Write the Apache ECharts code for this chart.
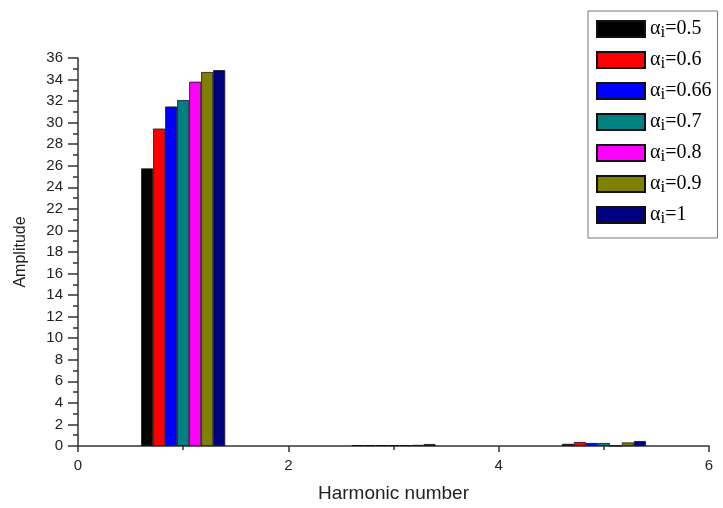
<!DOCTYPE html>
<html>
<head>
<meta charset="utf-8">
<script src="https://cdn.jsdelivr.net/npm/echarts@6/dist/echarts.min.js"></script>
<style>
  html, body { margin: 0; padding: 0; background: #fff; }
  #chart-container { width: 723px; height: 508px; }
</style>
</head>
<body>
<div id="chart-container"></div>
<script>
// harmonic numbers on the x axis
const harmonics = [1, 3, 5];
const alphas = ['0.5', '0.6', '0.66', '0.7', '0.8', '0.9', '1'];
const colors = ['#000000', '#ff0000', '#0000ff', '#008080', '#ff00ff', '#808000', '#000080'];

// amplitude per alpha, one value per harmonic
const amp05 = [25.75, 0.08, 0.2];
const amp06 = [29.45, 0.08, 0.37];
const amp066 = [31.5, 0.08, 0.28];
const amp07 = [32.1, 0.08, 0.28];
const amp08 = [33.8, 0.08, 0.03];
const amp09 = [34.7, 0.1, 0.33];
const amp1 = [34.87, 0.18, 0.46];
const amplitudes = [amp05, amp06, amp066, amp07, amp08, amp09, amp1];

const myChart = echarts.init(document.getElementById('chart-container'));

const series = alphas.map((a, i) => ({
	name: 'αi=' + a,
	type: 'bar',
	data: harmonics.map((h, k) => [h, amplitudes[i][k]]),
	barWidth: 12,
	barGap: '0%',
	itemStyle: {
		color: colors[i],
		borderColor: '#111',
		borderWidth: 0.8
	}
}));

const axisColor = '#333';

const option = {
	animation: false,
	grid: { left: 78, right: 14, top: 58, bottom: 59 },
	legend: {
		orient: 'vertical',
		left: 588,
		top: 11,
		padding: [6, 6, 11, 8],
		icon: 'rect',
		itemWidth: 48,
		itemHeight: 16,
		itemGap: 7,
		borderColor: '#777',
		borderWidth: 1,
		formatter: (name) => '{a|α}{s|i}{a|=' + name.split('=')[1] + '}',
		textStyle: {
			rich: {
				a: { fontFamily: 'Liberation Serif', fontSize: 20, color: '#000', lineHeight: 20 },
				s: { fontFamily: 'Liberation Serif', fontSize: 17, color: '#000', lineHeight: 10, padding: [7, 0, 0, 0] }
			}
		}
	},
	xAxis: {
		type: 'value',
		min: 0,
		max: 6,
		interval: 2,
		name: 'Harmonic number',
		nameLocation: 'middle',
		nameGap: 38,
		nameTextStyle: { fontFamily: 'Liberation Sans', fontSize: 19, color: '#222' },
		axisLine: { show: true, lineStyle: { color: axisColor, width: 1.5 } },
		axisTick: { show: true, length: 6, lineStyle: { color: axisColor, width: 1.5 } },
		minorTick: { show: true, splitNumber: 2, length: 4, lineStyle: { color: axisColor, width: 1.5 } },
		axisLabel: { fontFamily: 'Liberation Sans', fontSize: 15, color: '#222', margin: 12 },
		splitLine: { show: false }
	},
	yAxis: {
		type: 'value',
		min: 0,
		max: 36,
		interval: 2,
		name: 'Amplitude',
		nameLocation: 'middle',
		nameGap: 49,
		nameTextStyle: { fontFamily: 'Liberation Sans', fontSize: 16, color: '#222' },
		axisLine: { show: true, lineStyle: { color: axisColor, width: 1.5 } },
		axisTick: { show: true, length: 10, lineStyle: { color: axisColor, width: 1.5 } },
		minorTick: { show: true, splitNumber: 2, length: 5, lineStyle: { color: axisColor, width: 1.5 } },
		axisLabel: { fontFamily: 'Liberation Sans', fontSize: 15, color: '#222', margin: 15 },
		splitLine: { show: false }
	},
	series: series
};

myChart.setOption(option);
</script>
</body>
</html>
